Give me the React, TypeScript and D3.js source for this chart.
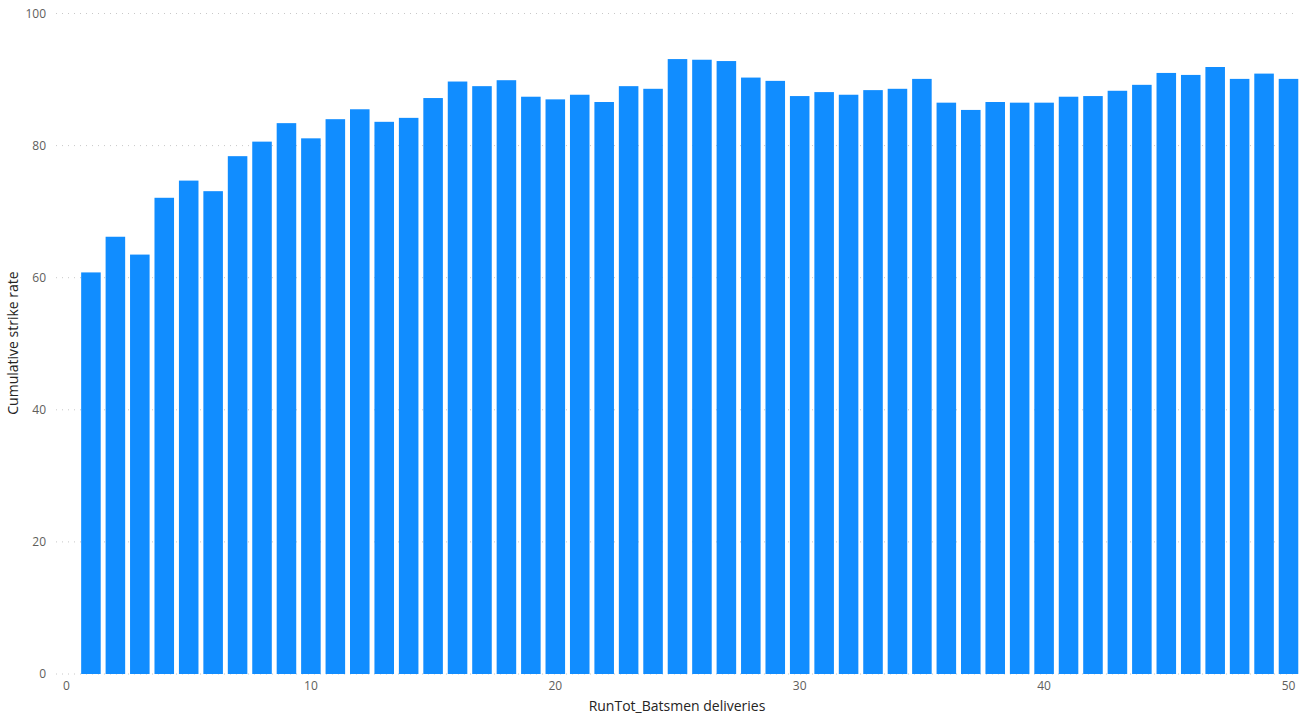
import React from "react";
import * as d3 from "d3";

const deliveries: number[] = Array.from({ length: 50 }, (_, i) => i + 1);
const strikeRate: number[] = [
  60.8, 66.2, 63.5, 72.1, 74.7, 73.1, 78.4, 80.6, 83.4, 81.1,
  84.0, 85.5, 83.6, 84.2, 87.2, 89.7, 89.0, 89.9, 87.4, 87.0,
  87.7, 86.6, 89.0, 88.6, 93.1, 93.0, 92.8, 90.3, 89.8, 87.5,
  88.1, 87.7, 88.4, 88.6, 90.1, 86.5, 85.4, 86.6, 86.5, 86.5,
  87.4, 87.5, 88.3, 89.2, 91.0, 90.7, 91.9, 90.1, 90.9, 90.1,
];
const xTicks: number[] = [0, 10, 20, 30, 40, 50];
const yTicks: number[] = [0, 20, 40, 60, 80, 100];
const xTitle = "RunTot_Batsmen deliveries";
const yTitle = "Cumulative strike rate";

const W = 1301;
const H = 715;
const FONT = "'Segoe UI', 'Open Sans', 'Noto Sans', sans-serif";

export default function App() {
  React.useEffect(() => {
    document.body.style.margin = "0";
  }, []);

  const x = d3.scaleLinear().domain([0, 50]).range([66.5, 1288.5]);
  const y = d3.scaleLinear().domain([0, 100]).range([674, 13.5]);
  const step = x(1) - x(0);
  const bw = step * 0.8;

  return (
    <svg width={W} height={H} style={{ display: "block", background: "#fff" }}>
      {yTicks.map((t) => (
        <g key={"y" + t}>
          <line
            x1={56}
            x2={1297}
            y1={y(t)}
            y2={y(t)}
            stroke="#c8c8c8"
            strokeWidth={1}
            strokeDasharray="1,5"
          />
          <text
            x={46}
            y={y(t)}
            dy="0.35em"
            textAnchor="end"
            fontFamily={FONT}
            fontSize={12}
            fill="#605e5c"
          >
            {t}
          </text>
        </g>
      ))}
      {deliveries.map((d, i) => (
        <rect
          key={d}
          x={x(d) - bw / 2}
          y={y(strikeRate[i])}
          width={bw}
          height={y(0) - y(strikeRate[i])}
          fill="#118DFF"
        />
      ))}
      {xTicks.map((t) => (
        <text
          key={"x" + t}
          x={x(t)}
          y={686}
          dy="0.35em"
          textAnchor="middle"
          fontFamily={FONT}
          fontSize={12}
          fill="#605e5c"
        >
          {t}
        </text>
      ))}
      <text
        x={677}
        y={706}
        dy="0.35em"
        textAnchor="middle"
        fontFamily={FONT}
        fontSize={14}
        fill="#252423"
      >
        {xTitle}
      </text>
      <text
        transform={`translate(13,${343}) rotate(-90)`}
        dy="0.35em"
        textAnchor="middle"
        fontFamily={FONT}
        fontSize={14}
        fill="#252423"
      >
        {yTitle}
      </text>
    </svg>
  );
}
